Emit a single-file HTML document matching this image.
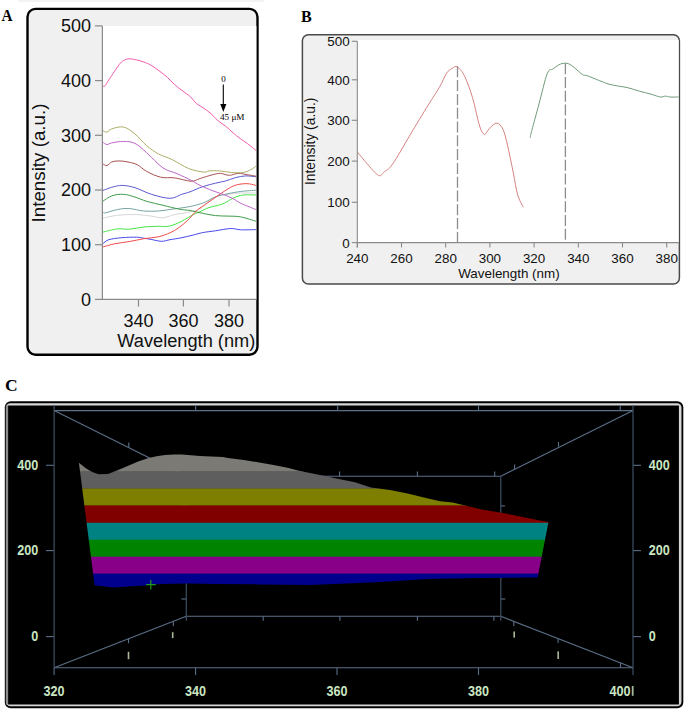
<!DOCTYPE html><html><head><meta charset="utf-8"><style>html,body{margin:0;padding:0;background:#fff;}body{width:685px;height:710px;overflow:hidden;}svg{display:block;}</style></head><body>
<svg width="685" height="710" viewBox="0 0 685 710">
<rect x="18" y="0" width="246" height="2" fill="#f3f3f3"/>
<text transform="translate(1.5,21) scale(0.9,1)" font-family='"Liberation Serif", serif' font-weight="bold" font-size="17">A</text>
<rect x="27.5" y="8.9" width="230" height="345.9" rx="8" fill="#f0f0f0" stroke="#000" stroke-width="2.4"/>
<rect x="102.4" y="26" width="154" height="273.4" fill="#fff"/>
<defs><clipPath id="cA"><rect x="102.4" y="26" width="154" height="273.4"/></clipPath><clipPath id="cB"><rect x="357.3" y="40" width="321.4" height="202.5"/></clipPath></defs>
<g clip-path="url(#cA)" fill="none" stroke-width="1.0" stroke-linejoin="round">
<path d="M102.8,218.2 C105.2,217.7 111.9,215.9 117.5,215.3 C123.1,214.7 130.9,214.5 136.5,214.6 C142.1,214.7 146.7,215.6 151.1,216.1 C155.5,216.6 158.7,218.1 162.8,217.8 C166.9,217.5 171.8,215.2 175.9,214.3 C180.0,213.4 183.6,213.3 187.6,212.4 C191.6,211.5 195.4,211.3 200.0,208.8 C204.6,206.3 210.7,199.9 215.4,197.5 C220.1,195.1 223.8,195.1 228.0,194.3 C232.2,193.6 235.9,193.2 240.7,193.0 C245.4,192.8 253.9,193.0 256.5,193.0" stroke="#d6d6d6"/>
<path d="M102.8,212.0 C103.3,212.1 103.3,213.2 105.8,212.8 C108.2,212.4 113.6,210.2 117.5,209.5 C121.4,208.8 124.8,208.2 129.2,208.5 C133.6,208.8 138.9,210.6 143.8,211.0 C148.7,211.4 153.5,211.3 158.4,211.0 C163.3,210.7 168.1,209.7 173.0,209.0 C177.9,208.3 182.7,208.0 187.6,207.0 C192.5,206.0 198.1,204.9 202.7,203.2 C207.3,201.5 211.2,198.4 215.4,196.8 C219.6,195.2 223.8,194.6 228.0,193.7 C232.2,192.8 235.9,192.1 240.7,191.5 C245.4,190.9 253.9,190.4 256.5,190.2" stroke="#78a4a4"/>
<path d="M102.8,232.1 C105.2,231.6 113.1,229.4 117.5,228.9 C121.9,228.4 124.8,229.5 129.2,229.2 C133.6,228.9 138.9,227.5 143.8,227.0 C148.7,226.5 154.8,226.4 158.4,226.3 C162.1,226.2 163.3,226.8 165.7,226.6 C168.1,226.4 170.3,226.0 173.0,225.1 C175.7,224.2 178.4,222.9 181.8,221.2 C185.2,219.4 190.4,216.2 193.4,214.6 C196.4,213.0 197.4,212.9 200.0,211.7 C202.6,210.5 205.2,208.9 209.0,207.6 C212.8,206.3 219.0,205.4 223.0,203.8 C227.0,202.2 229.7,199.6 233.1,198.1 C236.5,196.6 239.4,195.5 243.3,195.0 C247.2,194.5 254.3,195.0 256.5,195.0" stroke="#44e444"/>
<path d="M102.8,201.3 C104.3,200.4 108.3,197.1 111.7,195.9 C115.1,194.7 119.5,194.1 123.4,194.3 C127.3,194.5 131.1,195.9 135.0,197.1 C138.9,198.3 142.0,199.9 146.7,201.3 C151.4,202.7 157.6,204.0 163.0,205.3 C168.4,206.6 174.9,208.3 179.4,209.2 C183.9,210.1 186.1,209.8 190.0,210.5 C193.9,211.2 198.5,212.5 202.7,213.3 C206.9,214.2 211.2,215.1 215.4,215.6 C219.6,216.1 223.8,215.9 228.0,216.1 C232.2,216.3 235.9,216.0 240.7,216.9 C245.4,217.8 253.9,220.7 256.5,221.4" stroke="#3f9a48"/>
<path d="M102.8,243.8 C103.8,243.1 105.6,240.7 108.8,239.7 C112.0,238.7 117.3,238.1 121.9,237.7 C126.5,237.3 132.8,237.1 136.5,237.2 C140.2,237.3 141.4,237.8 143.8,238.2 C146.2,238.6 148.2,238.9 151.1,239.4 C154.0,239.9 158.2,241.2 161.3,241.3 C164.5,241.4 166.6,240.3 170.0,239.7 C173.4,239.1 177.9,238.5 181.8,237.7 C185.7,236.9 189.9,235.8 193.4,235.0 C196.9,234.2 199.0,233.3 202.7,232.6 C206.4,231.9 210.8,231.5 215.4,230.8 C220.1,230.1 226.4,228.7 230.6,228.5 C234.8,228.3 236.4,229.6 240.7,229.8 C245.0,230.0 253.9,229.6 256.5,229.6" stroke="#4848ea"/>
<path d="M102.8,247.0 C104.8,246.5 110.2,244.7 114.6,243.8 C119.0,242.9 124.3,242.4 129.2,241.6 C134.1,240.8 138.9,239.5 143.8,238.7 C148.7,237.9 154.0,237.8 158.4,236.8 C162.8,235.8 166.6,234.3 170.0,232.8 C173.4,231.3 175.9,229.8 178.8,227.7 C181.7,225.6 184.9,222.9 187.6,220.4 C190.3,217.9 192.8,214.5 194.9,212.4 C197.0,210.3 197.8,209.6 200.0,208.0 C202.2,206.4 204.2,205.1 207.8,202.6 C211.4,200.1 217.5,195.8 221.7,193.0 C225.9,190.2 229.7,187.6 233.1,186.1 C236.5,184.6 239.2,184.3 242.0,183.9 C244.8,183.5 247.2,183.6 249.6,183.9 C252.0,184.2 255.3,185.3 256.5,185.6" stroke="#ee4a4a"/>
<path d="M102.8,190.5 C104.3,190.0 108.5,188.2 111.7,187.3 C114.9,186.5 118.3,185.3 122.2,185.4 C126.1,185.5 130.1,186.2 135.0,187.7 C139.9,189.2 145.6,192.5 151.4,194.3 C157.2,196.1 164.9,198.3 170.0,198.3 C175.1,198.3 178.5,195.4 181.8,194.3 C185.1,193.2 186.5,193.1 190.0,191.8 C193.5,190.5 198.5,188.1 202.7,186.7 C206.9,185.3 211.6,184.1 215.4,183.2 C219.2,182.2 222.1,181.9 225.5,181.0 C228.9,180.1 232.3,178.4 235.7,177.6 C239.1,176.8 242.3,176.0 245.8,175.9 C249.3,175.8 254.7,176.7 256.5,176.8" stroke="#5a5ad2"/>
<path d="M102.8,163.9 C103.5,164.2 105.5,165.8 107.0,165.5 C108.5,165.2 109.8,162.8 111.7,162.0 C113.7,161.2 116.0,160.9 118.7,160.9 C121.4,160.9 124.9,161.3 128.0,162.0 C131.1,162.7 134.3,163.2 137.4,164.8 C140.5,166.4 142.8,169.3 146.7,171.4 C150.6,173.5 156.0,176.1 160.7,177.2 C165.4,178.3 169.6,177.2 174.7,177.9 C179.8,178.6 186.9,181.1 191.1,181.2 C195.3,181.3 196.5,179.6 200.1,178.5 C203.7,177.4 209.4,175.5 212.8,174.7 C216.2,173.8 217.7,173.3 220.4,173.4 C223.2,173.5 226.3,175.3 229.3,175.3 C232.3,175.3 235.2,173.5 238.2,173.4 C241.2,173.3 244.0,174.2 247.1,174.7 C250.2,175.2 254.9,176.0 256.5,176.3" stroke="#a65252"/>
<path d="M102.8,142.2 C103.5,142.6 105.5,144.4 107.0,144.5 C108.5,144.6 109.0,143.4 111.7,142.9 C114.4,142.4 119.5,141.4 123.4,141.5 C127.3,141.6 131.1,141.5 135.0,143.4 C138.9,145.3 142.0,148.6 146.7,152.7 C151.4,156.8 157.9,164.4 163.0,167.9 C168.1,171.4 172.4,171.6 177.1,173.7 C181.8,175.8 187.3,178.4 191.1,180.3 C194.9,182.2 196.5,183.7 200.1,185.4 C203.7,187.2 209.0,189.3 212.8,190.8 C216.6,192.3 219.6,193.0 223.0,194.3 C226.4,195.6 230.2,197.2 233.1,198.7 C236.0,200.2 236.8,201.3 240.7,203.2 C244.6,205.0 253.9,208.7 256.5,209.8" stroke="#bd66c8"/>
<path d="M102.8,130.5 C103.5,130.8 105.5,132.4 107.0,132.1 C108.5,131.8 109.0,129.8 111.7,128.9 C114.4,128.1 119.5,126.2 123.4,127.0 C127.3,127.8 131.1,130.9 135.0,134.0 C138.9,137.1 142.8,142.4 146.7,145.7 C150.6,149.0 154.1,151.6 158.4,153.9 C162.7,156.2 167.3,157.2 172.4,159.7 C177.5,162.1 183.5,166.5 188.8,168.6 C194.1,170.7 200.6,171.7 204.0,172.1 C207.4,172.5 206.5,171.1 209.0,170.9 C211.5,170.7 215.4,170.6 219.2,170.9 C223.0,171.2 227.8,172.2 231.8,172.5 C235.8,172.8 240.1,173.0 243.3,172.5 C246.5,172.0 248.7,170.7 250.9,169.6 C253.1,168.5 255.6,166.4 256.5,165.8" stroke="#adad66"/>
<path d="M102.9,86.2 C103.3,86.1 104.1,86.8 105.1,85.8 C106.1,84.8 107.2,82.3 108.8,79.9 C110.4,77.5 112.7,74.0 114.6,71.2 C116.5,68.4 118.7,65.0 120.4,63.1 C122.1,61.2 123.3,60.6 124.8,59.9 C126.3,59.2 127.2,58.8 129.2,58.8 C131.1,58.8 134.1,59.4 136.5,59.9 C138.9,60.4 141.4,61.1 143.8,62.0 C146.2,62.9 148.4,63.7 151.1,65.3 C153.8,66.9 157.3,69.5 160.0,71.5 C162.7,73.5 164.9,75.1 167.3,77.3 C169.7,79.5 172.2,82.4 174.6,84.6 C177.0,86.8 179.2,88.3 181.9,90.4 C184.6,92.5 188.3,94.8 190.7,97.0 C193.1,99.2 194.3,101.7 196.5,103.6 C198.7,105.5 201.4,106.5 203.8,108.2 C206.2,109.9 208.7,111.7 211.1,113.8 C213.5,115.9 216.0,119.0 218.4,121.1 C220.8,123.2 223.3,124.2 225.7,126.2 C228.1,128.2 230.6,130.7 233.0,132.8 C235.4,134.9 237.9,136.8 240.3,138.6 C242.7,140.4 244.9,141.7 247.6,143.7 C250.3,145.7 255.0,149.6 256.5,150.8" stroke="#f25aa8"/>
</g>
<g stroke="#8a8a8a" stroke-width="1.2" fill="none">
<path d="M102.4,26 V299.4 H256.2"/>
<path d="M95,299.4 H102.4"/>
<path d="M95,244.7 H102.4"/>
<path d="M95,190.0 H102.4"/>
<path d="M95,135.3 H102.4"/>
<path d="M95,80.6 H102.4"/>
<path d="M95,25.9 H102.4"/>
<path d="M138.5,299.4 V306.6"/>
<path d="M183.4,299.4 V306.6"/>
<path d="M229,299.4 V306.6"/>
</g>
<g font-family='"Liberation Sans", sans-serif' font-size="18" fill="#111" text-anchor="end">
<text x="91" y="305.7">0</text>
<text x="91" y="251.0">100</text>
<text x="91" y="196.3">200</text>
<text x="91" y="141.6">300</text>
<text x="91" y="86.9">400</text>
<text x="91" y="32.2">500</text>
</g>
<g font-family='"Liberation Sans", sans-serif' font-size="18" fill="#111" text-anchor="middle">
<text x="138.5" y="327.4">340</text>
<text x="183.4" y="327.4">360</text>
<text x="229" y="327.4">380</text>
</g>
<text font-family='"Liberation Sans", sans-serif' fill="#111" text-anchor="middle" transform="translate(44.6,163) rotate(-90)" font-size="18.8">Intensity (a.u.)</text>
<text font-family='"Liberation Sans", sans-serif' font-size="18" fill="#111" x="117.3" y="347.4" textLength="138" lengthAdjust="spacingAndGlyphs">Wavelength (nm)</text>
<text x="223.4" y="81.6" font-family='"Liberation Serif", serif' font-size="9" text-anchor="middle" fill="#000">0</text>
<path d="M223.3,84.4 V105" stroke="#000" stroke-width="1.1"/>
<path d="M220.3,104 L226.4,104 L223.3,112 Z" fill="#000"/>
<text x="219.9" y="120.3" font-family='"Liberation Serif", serif' font-size="9.2" fill="#000">45 μM</text>
<text transform="translate(300.9,22.2) scale(0.92,1)" font-family='"Liberation Serif", serif' font-weight="bold" font-size="17.5">B</text>
<rect x="302.4" y="34.8" width="377" height="249.2" rx="6" fill="#f0f0f0" stroke="#4a4a4a" stroke-width="1.5"/>
<rect x="357.3" y="40" width="321.4" height="202.5" fill="#fff"/>
<g stroke="#8c8c8c" stroke-width="1.3" stroke-dasharray="11,2.8" fill="none">
<path d="M457.5,66.3 V242.4"/>
<path d="M565.4,63.2 V242.4"/>
</g>
<g clip-path="url(#cB)" fill="none" stroke-width="1.0" stroke-linejoin="round">
<path d="M357.5,152.2 C359.1,154.1 363.4,159.6 366.9,163.5 C370.4,167.4 375.6,174.0 378.5,175.4 C381.4,176.8 381.9,173.7 384.3,171.8 C386.7,169.9 388.3,170.2 392.6,164.1 C396.9,158.0 404.1,145.0 410.0,135.1 C415.9,125.2 423.4,112.8 428.3,104.9 C433.2,97.0 436.2,92.8 439.3,87.5 C442.4,82.2 444.5,76.4 446.6,73.2 C448.7,70.0 450.3,69.5 452.1,68.4 C453.9,67.4 455.3,65.6 457.4,66.9 C459.5,68.2 462.2,71.2 464.7,76.4 C467.2,81.6 470.2,89.8 472.6,97.9 C475.0,106.0 477.4,118.8 479.3,124.9 C481.2,131.0 482.6,133.8 484.3,134.4 C486.0,135.0 487.4,130.2 489.5,128.3 C491.6,126.4 494.6,122.9 496.9,123.1 C499.1,123.3 501.2,125.7 503.0,129.4 C504.8,133.1 505.8,138.0 507.5,145.2 C509.2,152.3 511.5,164.0 513.2,172.3 C514.9,180.6 516.0,189.1 517.7,194.9 C519.4,200.7 522.4,205.2 523.3,207.3" stroke="#d68282"/>
<path d="M530.1,137.9 C530.4,136.5 530.5,135.3 532.0,129.7 C533.5,124.0 536.5,113.3 539.0,104.0 C541.5,94.7 544.9,79.5 547.2,73.7 C549.5,67.9 551.0,70.5 553.0,69.0 C555.0,67.5 556.9,65.8 558.9,64.8 C560.9,63.8 563.1,63.1 565.2,63.2 C567.3,63.3 568.9,63.6 571.7,65.5 C574.5,67.4 579.7,72.7 582.2,74.4 C584.7,76.1 584.0,74.5 586.9,75.6 C589.8,76.6 596.0,79.3 599.7,80.7 C603.4,82.1 606.0,83.3 609.1,84.2 C612.2,85.1 615.3,85.5 618.4,86.1 C621.5,86.7 624.3,86.8 627.8,87.7 C631.3,88.6 635.6,90.1 639.5,91.2 C643.4,92.3 647.6,93.2 651.1,94.2 C654.6,95.2 658.1,96.7 660.5,97.0 C662.9,97.3 663.7,96.1 665.2,96.1 C666.8,96.1 667.5,96.8 669.8,97.0 C672.1,97.2 677.6,97.0 679.2,97.0" stroke="#6f9a78"/>
</g>
<g stroke="#8a8a8a" stroke-width="1.1" fill="none">
<path d="M357.3,41.3 V247.5 M357.3,242.6 H678.7"/>
<path d="M351.8,242.6 H357.3"/>
<path d="M351.8,202.3 H357.3"/>
<path d="M351.8,161.1 H357.3"/>
<path d="M351.8,120.3 H357.3"/>
<path d="M351.8,79.8 H357.3"/>
<path d="M351.8,41.3 H357.3"/>
<path d="M357.3,242.6 V247.5"/>
<path d="M401.5,242.6 V247.5"/>
<path d="M445.7,242.6 V247.5"/>
<path d="M489.9,242.6 V247.5"/>
<path d="M534.1,242.6 V247.5"/>
<path d="M578.3,242.6 V247.5"/>
<path d="M622.5,242.6 V247.5"/>
<path d="M666.7,242.6 V247.5"/>
</g>
<g font-family='"Liberation Sans", sans-serif' font-size="13.4" fill="#111" text-anchor="end">
<text x="349.6" y="247.5">0</text>
<text x="349.6" y="207.2">100</text>
<text x="349.6" y="166.0">200</text>
<text x="349.6" y="125.2">300</text>
<text x="349.6" y="84.7">400</text>
<text x="349.6" y="46.2">500</text>
</g>
<g font-family='"Liberation Sans", sans-serif' font-size="13.4" fill="#111" text-anchor="middle">
<text x="357.3" y="263.1">240</text>
<text x="401.5" y="263.1">260</text>
<text x="445.7" y="263.1">280</text>
<text x="489.9" y="263.1">300</text>
<text x="534.1" y="263.1">320</text>
<text x="578.3" y="263.1">340</text>
<text x="622.5" y="263.1">360</text>
<text x="666.7" y="263.1">380</text>
</g>
<text font-family='"Liberation Sans", sans-serif' font-size="13.8" fill="#111" text-anchor="middle" transform="translate(315.2,141.4) rotate(-90)">Intensity (a.u.)</text>
<text font-family='"Liberation Sans", sans-serif' font-size="13.4" fill="#111" x="458.2" y="278.4">Wavelength (nm)</text>
<text x="5" y="391" font-family='"Liberation Serif", serif' font-weight="bold" font-size="17.5">C</text>
<rect x="4.8" y="401.2" width="678.5" height="307" rx="6" fill="#000"/>
<rect x="5.9" y="403.3" width="675.6" height="303" rx="4.5" fill="#d6d6d6"/>
<rect x="5.9" y="405.4" width="2.2" height="299.1" fill="#8c8c8c"/>
<rect x="8.1" y="405.5" width="670.8" height="299" fill="#000"/>
<g stroke="#5b6f88" stroke-width="1.1" fill="none">
<path d="M54.1,410.6 H633"/>
<path d="M54.1,667.8 H633"/>
<path d="M54.1,410.6 L186.3,476.3"/>
<path d="M633,410.6 L500.8,476.3"/>
<path d="M54.1,667.8 L186.3,616.3"/>
<path d="M633,667.8 L500.8,616.3"/>
<path d="M186.3,476.3 H500.8 M500.8,616.3 H186.3"/>
<path d="M195.6,410.6 V405.5"/>
<path d="M337.7,410.6 V405.5"/>
<path d="M478.5,410.6 V405.5"/>
<path d="M620.2,410.6 V405.5"/>
<path d="M54.1,667.8 V675"/>
<path d="M195.6,667.8 V675"/>
<path d="M337,667.8 V675"/>
<path d="M478.5,667.8 V675"/>
<path d="M620.5,667.8 V662.5"/>
<path d="M263.2,616.3 V620.7"/>
<path d="M339.9,616.3 V620.7"/>
<path d="M417.4,616.3 V620.7"/>
<path d="M493.9,616.3 V620.7"/>
<path d="M263.2,476.3 V471.5"/>
<path d="M339.6,476.3 V471.5"/>
<path d="M417.4,476.3 V471.5"/>
<path d="M494.7,476.3 V471.5"/>
<path d="M186.3,599 H181.4"/><path d="M500.8,599 H505.3"/>
<path d="M500.8,505.9 H505"/><path d="M186.3,505.9 H181.5"/>
<path d="M186.3,552 H181.5"/><path d="M500.8,552 H505"/>
<path d="M128.5,643.2 V638.2"/><path d="M173.4,626 V621"/>
<path d="M513.8,621.5 V626"/><path d="M558.1,638.8 V643"/>
<path d="M128.8,447.2 V442.4"/><path d="M173.4,469.5 V464.5"/>
<path d="M514.6,469 V464.5"/><path d="M558.5,446.7 V442"/>
<path d="M46,465.3 H54.1"/>
<path d="M633,465.3 H641"/>
<path d="M46,550.6 H54.1"/>
<path d="M633,550.6 H641"/>
<path d="M46,636.6 H54.1"/>
<path d="M633,636.6 H641"/>
</g>
<g stroke="#3e4f63" stroke-width="1.2" fill="none"><path d="M54.1,405.5 V667.8"/><path d="M633,405.5 V675"/><path d="M186.3,476.3 V620.8"/><path d="M500.8,476.3 V620.8"/></g>
<defs><clipPath id="cS"><path d="M78.9,462.8 L85.5,468.0 L92.1,471.9 L98.7,474.2 L107.9,473.9 L117.0,470.6 L127.6,466.0 L138.1,461.4 L148.6,458.1 L156.5,456.2 L165.0,454.9 L174.0,454.4 L182.0,454.5 L200.0,455.9 L222.8,456.9 L228.0,458.1 L243.8,459.9 L257.8,462.2 L273.6,465.1 L287.6,467.8 L298.0,470.4 L305.0,472.1 L320.0,475.1 L337.5,478.8 L355.0,482.3 L370.8,487.5 L390.0,490.1 L407.6,493.6 L425.0,497.7 L440.0,501.2 L452.5,502.6 L467.4,506.1 L480.5,509.3 L501.5,512.8 L522.6,517.1 L540.1,520.6 L548.5,522.0 L537.6,577.6 L480.1,577.9 L427.5,578.9 L380.0,581.9 L346.5,583.6 L309.3,584.9 L259.6,584.4 L215.0,584.0 L189.4,583.6 L160.9,584.0 L157.0,584.2 L145.0,585.5 L132.4,586.3 L113.5,587.4 L94.6,585.2 Z"/></clipPath></defs>
<g clip-path="url(#cS)">
<rect x="70" y="440" width="490" height="31.8" fill="#7b7a75"/>
<rect x="70" y="471.5" width="490" height="17.3" fill="#5e5e5e"/>
<rect x="70" y="488.5" width="490" height="17.3" fill="#7e7e00"/>
<rect x="70" y="505.5" width="490" height="17.6" fill="#800000"/>
<rect x="70" y="522.8" width="490" height="17.2" fill="#008282"/>
<rect x="70" y="539.7" width="490" height="17.3" fill="#008400"/>
<rect x="70" y="556.7" width="490" height="17.2" fill="#880088"/>
<rect x="70" y="573.6" width="490" height="26.7" fill="#00008c"/>
</g>
<path d="M146.1,584.7 H155.8 M150.8,580 V589.5" stroke="#1c991c" stroke-width="1.2"/>
<g font-family='"Liberation Sans", sans-serif' font-weight="bold" font-size="14" fill="#cae6c2">
<text transform="translate(38.3,470.0) scale(0.9,1)" text-anchor="end">400</text>
<text transform="translate(38.3,555.3) scale(0.9,1)" text-anchor="end">200</text>
<text transform="translate(38.3,641.3) scale(0.9,1)" text-anchor="end">0</text>
<text transform="translate(648.8,470.0) scale(0.9,1)" text-anchor="start">400</text>
<text transform="translate(648.8,555.3) scale(0.9,1)" text-anchor="start">200</text>
<text transform="translate(648.8,641.3) scale(0.9,1)" text-anchor="start">0</text>
<text transform="translate(54,695.8) scale(0.9,1)" text-anchor="middle">320</text>
<text transform="translate(195.6,695.8) scale(0.9,1)" text-anchor="middle">340</text>
<text transform="translate(337,695.8) scale(0.9,1)" text-anchor="middle">360</text>
<text transform="translate(478.5,695.8) scale(0.9,1)" text-anchor="middle">380</text>
<text transform="translate(609.5,695.8) scale(0.9,1)" text-anchor="start">400</text>
</g>
<rect x="631.8" y="686" width="1.8" height="9.8" fill="#cae6c2" opacity="0.8"/>
<rect x="127.7" y="651.8" width="1.6" height="7.4" fill="#a8b898"/>
<rect x="171.9" y="632.2" width="1.6" height="5.9" fill="#a8b898"/>
<rect x="513.4" y="631.5" width="1.6" height="6.1" fill="#a8b898"/>
<rect x="557.4" y="651.4" width="1.6" height="7.6" fill="#a8b898"/>
</svg></body></html>
